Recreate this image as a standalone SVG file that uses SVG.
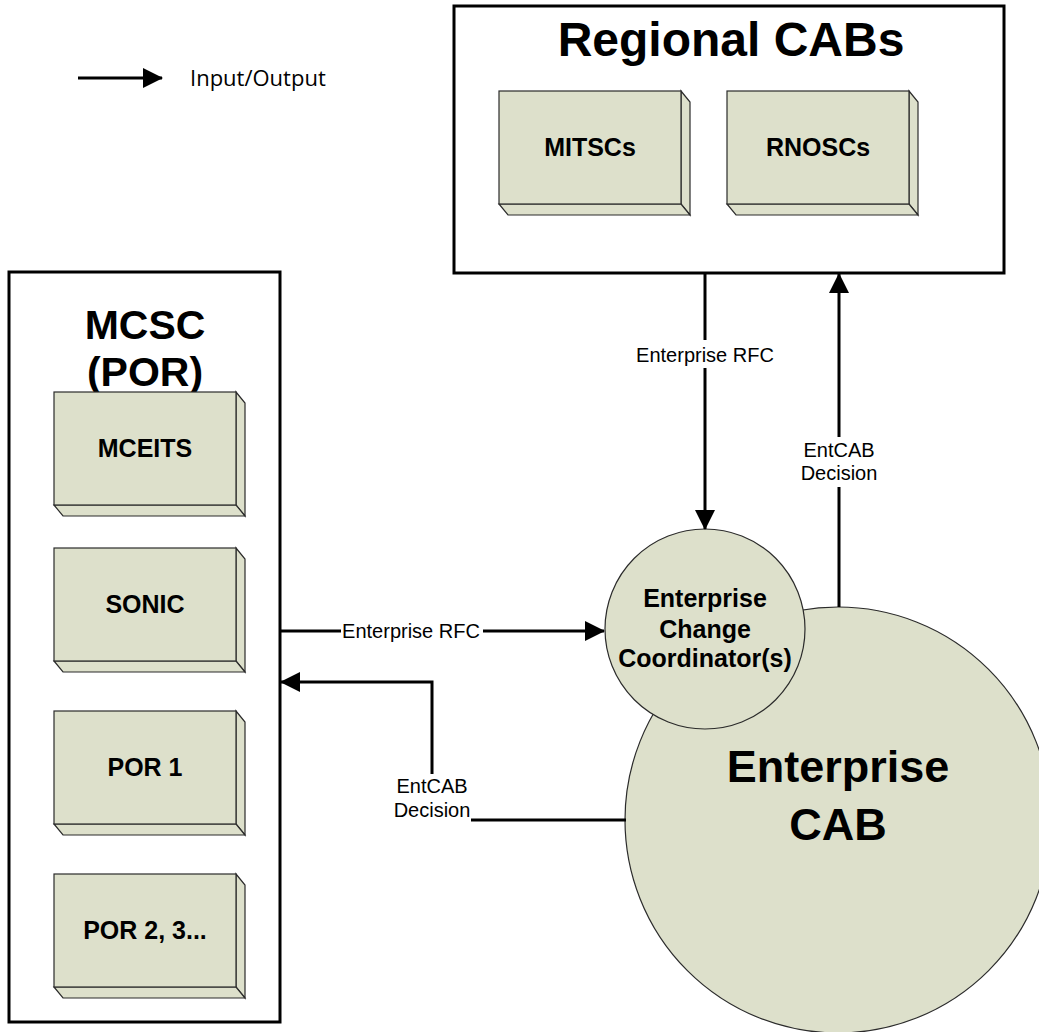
<svg xmlns="http://www.w3.org/2000/svg" width="1039" height="1032" viewBox="0 0 1039 1032">
  <defs>
    <style>
      .frame { fill: #ffffff; stroke: #000000; stroke-width: 3; }
      .face { fill: #dde0cb; stroke: #2b2b2b; stroke-width: 1.2; stroke-linejoin: miter; }
      .disc { fill: #dde0cb; stroke: #2b2b2b; stroke-width: 1.2; }
      .wire { fill: none; stroke: #000000; stroke-width: 3; }
      .title { font-family: "Liberation Sans", Arial, sans-serif; font-weight: bold; fill: #000000; text-anchor: middle; }
      .boxlabel { font-family: "Liberation Sans", Arial, sans-serif; font-weight: bold; font-size: 25px; fill: #000000; text-anchor: middle; }
      .lbl { font-family: "Liberation Sans", Arial, sans-serif; font-size: 20px; fill: #000000; text-anchor: middle; }
      .legend { font-family: "Open Sans", "Noto Sans", sans-serif; font-size: 22px; fill: #000000; }
    </style>
    <marker id="arrow" viewBox="0 0 20 20" refX="19" refY="10" markerWidth="20" markerHeight="20" markerUnits="userSpaceOnUse" orient="auto">
      <path d="M0,0 L20,10 L0,20 Z" fill="#000000"/>
    </marker>
    <!-- extruded box: front face 182x113, depth offset (9,11) -->
    <g id="block">
      <polygon class="face" points="182,0 191,11 191,124 182,113"/>
      <polygon class="face" points="0,113 182,113 191,124 9,124"/>
      <rect class="face" x="0" y="0" width="182" height="113"/>
    </g>
  </defs>

  <!-- legend -->
  <g id="legend">
    <line class="wire" x1="78" y1="78" x2="162" y2="78" marker-end="url(#arrow)"/>
    <text class="legend" x="190" y="86">Input/Output</text>
  </g>

  <!-- Regional CABs container -->
  <g id="regional-cabs">
    <rect class="frame" x="454" y="6" width="550" height="267"/>
    <text class="title" x="731" y="56" font-size="48">Regional CABs</text>
  </g>
  <g id="mitscs">
    <use href="#block" x="499" y="91"/>
    <text class="boxlabel" x="590" y="156">MITSCs</text>
  </g>
  <g id="rnoscs">
    <use href="#block" x="727" y="91"/>
    <text class="boxlabel" x="818" y="156">RNOSCs</text>
  </g>

  <!-- MCSC (POR) container -->
  <g id="mcsc">
    <rect class="frame" x="9" y="272" width="271" height="750"/>
    <text class="title" x="145" y="339" font-size="41">MCSC</text>
    <text class="title" x="145" y="386" font-size="41">(POR)</text>
  </g>
  <g id="mceits">
    <use href="#block" x="54" y="392"/>
    <text class="boxlabel" x="145" y="457">MCEITS</text>
  </g>
  <g id="sonic">
    <use href="#block" x="54" y="548"/>
    <text class="boxlabel" x="145" y="613">SONIC</text>
  </g>
  <g id="por1">
    <use href="#block" x="54" y="711"/>
    <text class="boxlabel" x="145" y="776">POR 1</text>
  </g>
  <g id="por23">
    <use href="#block" x="54" y="874"/>
    <text class="boxlabel" x="145" y="939">POR 2, 3...</text>
  </g>

  <!-- Enterprise CAB -->
  <g id="enterprise-cab">
    <circle class="disc" cx="838" cy="820" r="213"/>
    <text class="title" x="838" y="782" font-size="45">Enterprise</text>
    <text class="title" x="838" y="840" font-size="45">CAB</text>
  </g>

  <!-- Enterprise Change Coordinator(s) -->
  <g id="coordinator">
    <circle class="disc" cx="705" cy="629" r="100"/>
    <text class="boxlabel" x="705" y="607">Enterprise</text>
    <text class="boxlabel" x="705" y="638">Change</text>
    <text class="boxlabel" x="705" y="667">Coordinator(s)</text>
  </g>

  <!-- connectors -->
  <g id="connectors">
    <line class="wire" x1="705" y1="273" x2="705" y2="529" marker-end="url(#arrow)"/>
    <line class="wire" x1="839" y1="607" x2="839" y2="274" marker-end="url(#arrow)"/>
    <line class="wire" x1="280" y1="631" x2="604" y2="631" marker-end="url(#arrow)"/>
    <polyline class="wire" points="626,820 432,820 432,682 281,682" marker-end="url(#arrow)"/>

    <!-- label backgrounds -->
    <rect x="634" y="340" width="142" height="28" fill="#ffffff"/>
    <rect x="806" y="437" width="66" height="50" fill="#ffffff"/>
    <rect x="341" y="619" width="142" height="24" fill="#ffffff"/>
    <rect x="391" y="774" width="80" height="52" fill="#ffffff"/>

    <text class="lbl" x="705" y="362">Enterprise RFC</text>
    <text class="lbl" x="839" y="457">EntCAB</text>
    <text class="lbl" x="839" y="480">Decision</text>
    <text class="lbl" x="411" y="638">Enterprise RFC</text>
    <text class="lbl" x="432" y="793">EntCAB</text>
    <text class="lbl" x="432" y="817">Decision</text>
  </g>
</svg>
